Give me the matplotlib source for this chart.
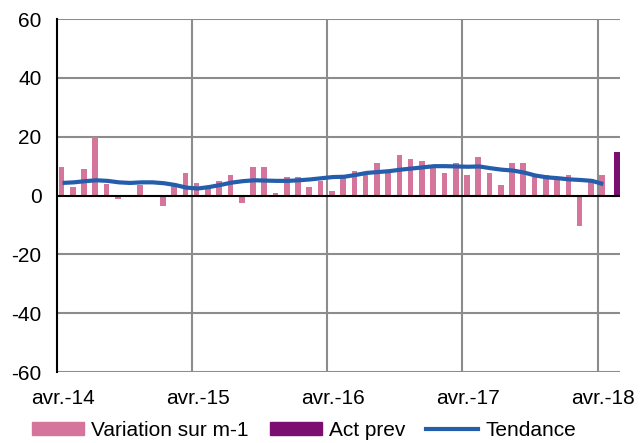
import matplotlib
matplotlib.use('Agg')
import matplotlib.pyplot as plt
from matplotlib.patches import Patch
from matplotlib.lines import Line2D
import numpy as np

plt.rcParams['font.family'] = ['Liberation Sans', 'DejaVu Sans']
plt.rcParams['axes.unicode_minus'] = False

# monthly change, avr.-14 .. avr.-18
variation = [9.6, 3.0, 9.0, 20.0, 4.0, -1.0, -0.3, 3.7, -0.2, -3.6,
             3.4, 7.6, 4.2, 2.6, 4.9, 6.9, -2.5, 9.7, 9.7, 0.9,
             6.3, 6.3, 2.9, 5.1, 1.6, 6.9, 8.4, 7.1, 11.0, 8.0,
             13.8, 12.6, 11.9, 9.3, 7.8, 11.0, 7.1, 13.2, 7.7, 3.6,
             11.0, 11.1, 6.5, 7.0, 5.7, 7.0, -10.5, 5.3, 7.0]
act_prev = 14.7   # mai-18
tendance = [4.3, 4.5, 4.9, 5.2, 5.0, 4.5, 4.3, 4.5, 4.5, 4.2,
            3.6, 2.7, 2.4, 2.9, 3.6, 4.4, 4.9, 5.2, 5.1, 5.0,
            5.0, 5.2, 5.5, 5.9, 6.3, 6.4, 7.0, 7.7, 8.0, 8.3,
            8.8, 9.2, 9.6, 10.0, 10.0, 9.9, 9.8, 9.9, 9.3, 8.8,
            8.5, 7.8, 6.8, 6.2, 5.9, 5.5, 5.3, 5.0, 3.9]
tick_labels = ['avr.-14', 'avr.-15', 'avr.-16', 'avr.-17', 'avr.-18']

PINK = '#D5759B'
PURPLE = '#7C0E72'
BLUE = '#235DAB'
GRID = '#8C8C8C'

fig = plt.figure(figsize=(6.4, 4.43), dpi=100)
ax = fig.add_axes([0.089, 0.160, 0.880, 0.797])

x = np.arange(len(variation))
ax.bar(x, variation, width=0.5, color=PINK, zorder=2)
ax.bar(len(variation) + 0.33, act_prev, width=0.5, color=PURPLE, zorder=2)
ax.plot(x + 0.1, tendance, color=BLUE, lw=3, zorder=3, solid_capstyle='butt')

ax.set_xlim(-0.4, 49.6)
ax.set_ylim(-60, 60)
ax.set_yticks(range(-60, 61, 20))
for y in range(-60, 61, 20):
    if y != 0:
        ax.axhline(y, color=GRID, lw=1.5, zorder=1)
for b in [11.6, 23.6, 35.6, 47.6]:
    ax.axvline(b, color=GRID, lw=1.5, zorder=1)
ax.axhline(0, color='black', lw=1.5, zorder=4)

ax.set_xticks([i * 12 + 0.1 for i in range(len(tick_labels))])
ax.set_xticklabels(tick_labels)
ax.tick_params(axis='both', length=0, labelsize=15)
ax.tick_params(axis='y', pad=11)
ax.tick_params(axis='x', pad=12)

for s in ['top', 'right', 'bottom']:
    ax.spines[s].set_visible(False)
ax.spines['left'].set_linewidth(1.5)
ax.spines['left'].set_zorder(5)

handles = [Patch(color=PINK), Patch(color=PURPLE), Line2D([], [], color=BLUE, lw=3)]
fig.legend(handles, ['Variation sur m-1', 'Act prev', 'Tendance'],
           loc='lower center', bbox_to_anchor=(0.475, -0.035), ncol=3,
           frameon=False, fontsize=15, handlelength=2.5, handleheight=0.6,
           handletextpad=0.35, columnspacing=1.0)

fig.savefig('out.png', dpi=100)
